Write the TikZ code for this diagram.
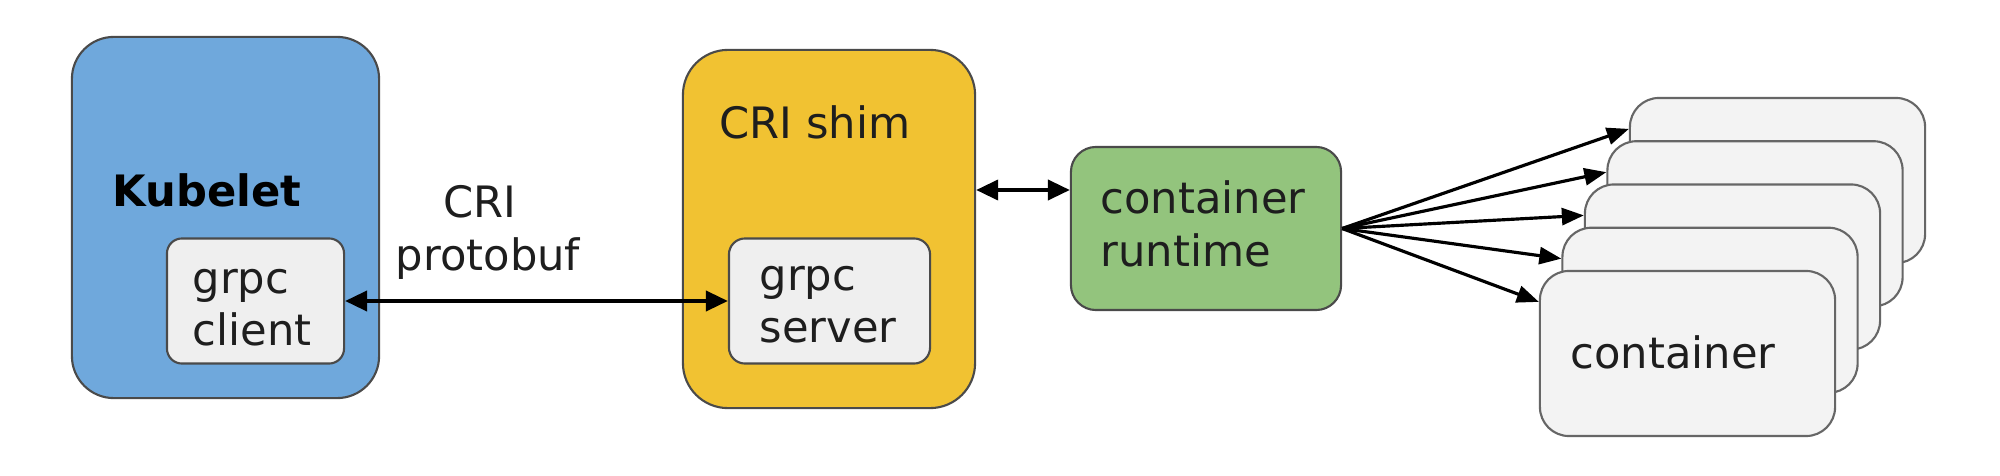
\documentclass[tikz,border=0pt]{standalone}
\usepackage{fontspec}
\setmainfont{DejaVu Sans}
\usetikzlibrary{arrows.meta,calc}
\definecolor{kblue}{HTML}{6FA8DC}
\definecolor{kyellow}{HTML}{F1C232}
\definecolor{kgreen}{HTML}{93C47D}
\definecolor{kgray}{HTML}{EFEFEF}
\definecolor{cgray}{HTML}{F3F3F3}
\definecolor{bordergray}{HTML}{4A4A4A}
\definecolor{cborder}{HTML}{666666}
\definecolor{txt}{HTML}{1E1E1E}
\begin{document}
\begin{tikzpicture}[x=0.01cm,y=-0.01cm,
  font=\fontsize{12.3}{14.8}\selectfont,
  panel/.style={draw=bordergray, line width=0.6pt, inner sep=0pt},
  cbox/.style={draw=cborder, line width=0.6pt, fill=cgray, inner sep=0pt,
    minimum width=2.95cm, minimum height=1.65cm, rounded corners=0.29cm},
  lbl/.style={anchor=base west, inner sep=0pt, text=txt},
  clbl/.style={anchor=base, inner sep=0pt, text=txt},
  biarrow/.style={line width=1.1pt, {Triangle[length=0.22cm,width=0.2cm]}-{Triangle[length=0.22cm,width=0.2cm]}},
  fan/.style={line width=0.9pt, -{Triangle[length=0.22cm,width=0.17cm]}}
]
\useasboundingbox (0,0) rectangle (2000,476);
\fill[white] (0,0) rectangle (2000,476);

% Kubelet
\node[panel, fill=kblue, minimum width=3.07cm, minimum height=3.61cm, rounded corners=0.42cm] (kubelet) at (225.5,217.5) {};
\node[lbl, text=black, font=\fontsize{12.3}{14.8}\selectfont\bfseries] (kubeletlbl) at (112,207) {Kubelet};
\node[panel, fill=kgray, minimum width=1.77cm, minimum height=1.25cm, rounded corners=0.15cm] (client) at (255.5,301) {};
\node[lbl] (clientl1) at (192,293) {grpc};
\node[lbl] (clientl2) at (192,345) {client};

% CRI shim
\node[panel, fill=kyellow, minimum width=2.92cm, minimum height=3.58cm, rounded corners=0.45cm] (shim) at (829,229) {};
\node[lbl] (shimlbl) at (719,139) {CRI shim};
\node[panel, fill=kgray, minimum width=2.01cm, minimum height=1.25cm, rounded corners=0.16cm] (server) at (829.5,301) {};
\node[lbl] (serverl1) at (759,290) {grpc};
\node[lbl] (serverl2) at (759,342) {server};

% protocol label
\node[clbl] (cri) at (480,218) {CRI};
\node[clbl] (protobuf) at (488,270) {protobuf};

% container runtime
\node[panel, fill=kgreen, minimum width=2.70cm, minimum height=1.63cm, rounded corners=0.25cm] (rt) at (1206,228.5) {};
\node[lbl] (rtl1) at (1100,213) {container};
\node[lbl] (rtl2) at (1100,267) {runtime};

% containers
\node[cbox] (c1) at (1777.5,180.5) {};
\node[cbox] (c2) at (1755,223.75) {};
\node[cbox] (c3) at (1732.5,267) {};
\node[cbox] (c4) at (1710,310.25) {};
\node[cbox] (c5) at (1687.5,353.5) {};
\node[lbl] (c5lbl) at (1570,368) {container};

% connectors
\draw[biarrow] (client.east) -- (server.west);
\draw[biarrow] (shim.east |- 0,190) -- (rt.west |- 0,190);
\foreach \i in {1,...,5}
  \draw[fan] (rt.east) -- ($(c\i.north west)+(0,32)$);
\end{tikzpicture}
\end{document}
